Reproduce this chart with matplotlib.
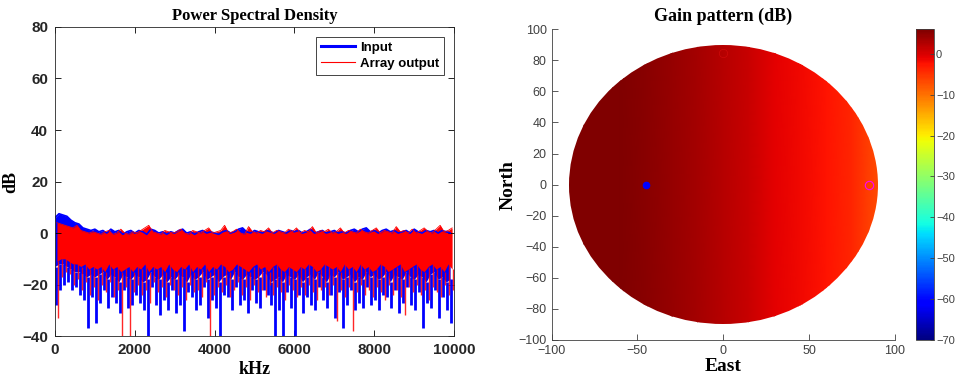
import numpy as np
import matplotlib
matplotlib.use('Agg')
from matplotlib import pyplot as plt
from matplotlib.patches import Circle
from matplotlib.colors import Normalize

# PSD, per 100 kHz bin:
# peak (top edge), bottom of the dense core, and depth of the dip below it
bin_khz = np.arange(0, 10000, 100)

input_hi = [6, 7.5, 7, 6.5, 5, 4, 3.5, 2, 1.5, 1,
            1.5, 0.5, 1, 0, 1.5, 0.5, 1, -0.5, 0.5, 1,
            0, 1, 0.5, -0.5, 1.5, 1, 0, 0.5, -0.5, 0.5,
            0, 1, 1.5, 0, 0.5, -0.5, 0.5, 1, 0, 0.5,
            0, -0.5, 0.5, 1, 0, 0.5, 1.5, 2, 0.5, 0,
            1, 0.5, 0, 1, 0.5, 0, 1, 0.5, 0, 1,
            0.5, 1, 0, 0.5, 1.5, 0, 0.5, 1, 0, 0.5,
            1, 0, 0.5, 0, 1, 1.5, 0.5, 1.5, 2, 0.5,
            1, 0, 1, 1.5, 0.5, 1, 0, 0.5, 1, 0,
            1.5, 0.5, 0, 1, 0.5, 1, 0, 1, 0.5, 0]
input_core = [-13, -12, -12, -13, -14, -15, -15, -16, -17, -16,
              -17, -16, -15, -18, -16, -17, -19, -16, -17, -18,
              -16, -17, -19, -18, -15, -17, -18, -16, -19, -17,
              -18, -16, -17, -19, -16, -18, -17, -15, -18, -17,
              -16, -19, -17, -16, -18, -15, -17, -18, -16, -17,
              -18, -17, -15, -16, -19, -18, -17, -19, -16, -17,
              -18, -16, -19, -17, -16, -18, -15, -17, -19, -16,
              -17, -15, -18, -17, -16, -19, -17, -18, -15, -17,
              -16, -18, -17, -15, -19, -16, -17, -18, -15, -17,
              -18, -16, -17, -19, -16, -15, -18, -17, -19, -18]
input_lo = [-28, -22, -20, -19, -22, -21, -24, -26, -37, -25,
            -35, -27, -22, -29, -25, -27, -31, -22, -29, -28,
            -24, -27, -30, -40, -21, -28, -32, -26, -30, -22,
            -31, -28, -38, -23, -25, -30, -28, -21, -33, -26,
            -29, -40, -24, -25, -30, -21, -28, -26, -31, -22,
            -27, -29, -22, -24, -28, -40, -30, -40, -23, -29,
            -40, -24, -31, -25, -28, -30, -21, -26, -29, -24,
            -33, -23, -37, -28, -22, -30, -27, -29, -21, -28,
            -26, -30, -24, -25, -29, -22, -31, -27, -21, -28,
            -30, -23, -37, -27, -29, -22, -33, -25, -30, -35]
output_hi = [4, 3.5, 3, 2.5, 2, 3, 1, 0.5, 0, 0.5,
             0, -0.5, 0.5, 1, -0.5, 0, 1.5, 0, -0.5, 0.5,
             0, 1, 2, 3, 0.5, 0, -0.5, 1, 0.5, 0,
             0.5, 1.5, 0, -0.5, 1, 0.5, 0, 1, 2, 0,
             0.5, 1, 3, 0, 0.5, 1.5, 0, -0.5, 2.5, 0.5,
             0, 1, 0.5, 2, 0, 1, 0.5, 0, 1.5, 0.5,
             2, 0, 1, 0.5, 2.5, 0, 1, 0.5, 1.5, 0,
             0.5, 2, 0, 1, 0.5, 0, 1.5, 0.5, 0, 1,
             2, 0, 1, 0.5, 0, 2.5, 0.5, 1, 0, 1.5,
             0, 1, 2, 0.5, 0, 1.5, 3, 0.5, 1, 2]
output_core = [-11, -10, -10, -11, -12, -12, -13, -12, -14, -13,
               -14, -13, -15, -12, -14, -13, -15, -14, -13, -15,
               -13, -14, -12, -15, -13, -14, -13, -15, -12, -14,
               -15, -13, -14, -12, -15, -13, -14, -12, -15, -13,
               -14, -12, -13, -15, -14, -12, -13, -14, -15, -13,
               -12, -14, -13, -15, -13, -12, -14, -15, -13, -14,
               -15, -13, -14, -12, -13, -15, -14, -12, -13, -14,
               -13, -15, -12, -14, -13, -15, -12, -14, -13, -15,
               -14, -12, -13, -15, -14, -13, -12, -15, -14, -13,
               -12, -14, -15, -13, -12, -14, -13, -15, -12, -14]
output_lo = [-33, -17, -15, -16, -20, -18, -22, -19, -24, -21,
             -26, -20, -23, -19, -25, -22, -40, -21, -40, -23,
             -20, -24, -22, -27, -19, -23, -21, -25, -20, -22,
             -24, -21, -26, -20, -23, -22, -25, -19, -40, -24,
             -21, -23, -20, -25, -22, -19, -24, -21, -26, -20,
             -23, -22, -25, -20, -24, -21, -23, -26, -20, -22,
             -25, -21, -24, -20, -23, -26, -22, -21, -24, -20,
             -34, -22, -25, -21, -38, -23, -20, -24, -22, -25,
             -21, -23, -26, -20, -24, -22, -25, -32, -21, -23,
             -20, -24, -22, -26, -21, -23, -25, -20, -24, -22]

# gain pattern along East (dB)
east_pts = [-90, -60, -45, -30, -15, 0, 15, 30, 45, 60, 75, 90]
north_pts = [-90, 90]
gain_db = [6, 5.8, 5.3, 4.5, 3.5, 2.3, 1, -0.6, -1.6, -2.6, -4, -7]
look_dir = (-45, 0)     # blue dot
null_dir = (85, 0)      # magenta circle
cbar_ticks = [-70, -60, -50, -40, -30, -20, -10, 0]

serif = 'Liberation Serif'
sans = 'Liberation Sans'
BLUE = '#0000ff'
RED = '#ff0000'

fig = plt.figure(figsize=(9.56, 3.85), dpi=100)

# ---- left: power spectral density
ax1 = fig.add_axes([0.0575, 0.127, 0.4175, 0.803])
ax1.fill_between(bin_khz, input_core, input_hi, color=BLUE, lw=0)
ax1.plot(bin_khz, input_hi, color=BLUE, lw=1.2)
ax1.vlines(bin_khz + 25, input_core, input_lo, color=BLUE, lw=2.0)
ax1.fill_between(bin_khz + 50, output_core, output_hi, color=RED, lw=0)
ax1.plot(bin_khz + 50, output_hi, color=RED, lw=0.6)
ax1.vlines(bin_khz + 75, output_core, output_lo, color=RED, lw=1.0, alpha=0.85)
ax1.plot([], [], color=BLUE, lw=2.2, label='Input')
ax1.plot([], [], color=RED, lw=0.8, label='Array output')
ax1.set_xlim(0, 10000)
ax1.set_ylim(-40, 80)
ax1.set_xticks(range(0, 10001, 2000))
ax1.set_yticks(range(-40, 81, 20))
ax1.tick_params(direction='in', top=True, right=True, length=4, width=0.6,
                labelsize=11, pad=5)
for lab in ax1.get_xticklabels() + ax1.get_yticklabels():
    lab.set_fontfamily(sans)
    lab.set_fontweight('bold')
    lab.set_color('#262626')
for sp in ax1.spines.values():
    sp.set_linewidth(0.6)
    sp.set_color('#262626')
ax1.set_title('Power Spectral Density', fontfamily=serif, fontweight='bold',
              fontsize=12, pad=5)
ax1.set_xlabel('kHz', fontfamily=serif, fontweight='bold', fontsize=13, labelpad=3)
ax1.set_ylabel('dB', fontfamily=serif, fontweight='bold', fontsize=13, labelpad=2)
leg = ax1.legend(loc='upper right', handlelength=2.6, fancybox=False,
                 framealpha=1, borderaxespad=0.75, handletextpad=0.4,
                 borderpad=0.35, labelspacing=0.3,
                 prop={'family': sans, 'weight': 'bold', 'size': 9.5})
leg.get_frame().set_edgecolor('#262626')
leg.get_frame().set_linewidth(0.6)

# ---- right: gain pattern
ax2 = fig.add_axes([0.577, 0.117, 0.359, 0.807])
norm = Normalize(vmin=-70, vmax=6)
gain = np.array([gain_db, gain_db])
mesh = ax2.pcolormesh(east_pts, north_pts, gain, shading='gouraud',
                      cmap='jet', norm=norm)
disc = Circle((0, 0), 90, transform=ax2.transData, facecolor='none', edgecolor='none')
ax2.add_patch(disc)
mesh.set_clip_path(disc)
ax2.plot(*look_dir, 'o', color=BLUE, ms=4.5)
ax2.plot(*null_dir, 'o', mfc='none', mec='#ff00ff', ms=6, mew=0.8)
ax2.plot(0, 85, 'o', mfc='none', mec='#e01010', ms=6, mew=0.5, alpha=0.6)
ax2.set_xlim(-100, 100)
ax2.set_ylim(-100, 100)
ax2.set_xticks(range(-100, 101, 50))
ax2.set_yticks(range(-100, 101, 20))
ax2.spines['top'].set_visible(False)
ax2.spines['right'].set_visible(False)
for sp in ax2.spines.values():
    sp.set_linewidth(0.6)
    sp.set_color('#404040')
ax2.tick_params(direction='in', length=4, width=0.6, labelsize=9, colors='#404040')
for lab in ax2.get_xticklabels() + ax2.get_yticklabels():
    lab.set_fontfamily(sans)
ax2.set_title('Gain pattern (dB)', fontfamily=serif, fontweight='bold',
              fontsize=13, pad=6)
ax2.set_xlabel('East', fontfamily=serif, fontweight='bold', fontsize=14, labelpad=1)
ax2.set_ylabel('North', fontfamily=serif, fontweight='bold', fontsize=14, labelpad=1)

cax = fig.add_axes([0.958, 0.117, 0.019, 0.807])
cb = fig.colorbar(plt.cm.ScalarMappable(norm=norm, cmap='jet'), cax=cax)
cb.set_ticks(cbar_ticks)
cb.outline.set_linewidth(0.6)
cb.outline.set_edgecolor('#404040')
cax.tick_params(direction='in', length=3, width=0.6, labelsize=8, pad=1.5,
                colors='#404040')
for lab in cax.get_yticklabels():
    lab.set_fontfamily(sans)

fig.savefig('out.png', dpi=100)
